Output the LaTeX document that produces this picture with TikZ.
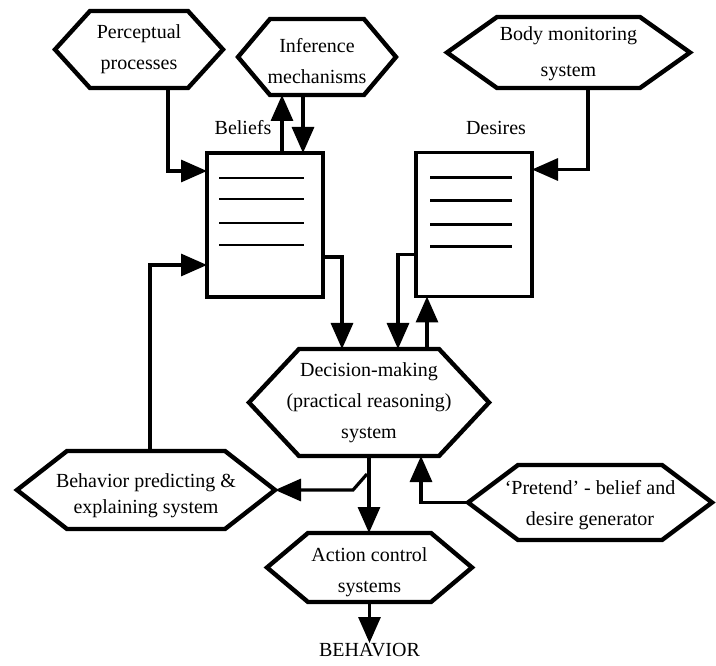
\documentclass[tikz,border=0pt]{standalone}
\usepackage{fontspec}
\setmainfont{Liberation Serif}
\usetikzlibrary{arrows.meta}
\newcommand\hexfont{\fontsize{20}{31}\selectfont}
\newcommand\hexnode[8][]{%
  \node[hexa, minimum width=#5pt, minimum height=#6pt] (#2) at (#3,#4) {};
  \draw[hexline] ([xshift=#7pt]#2.north west) -- ([xshift=-#7pt]#2.north east) -- (#2.east)
    -- ([xshift=-#7pt]#2.south east) -- ([xshift=#7pt]#2.south west) -- (#2.west) -- cycle;
  \node[hextext, #1] (#2-t) at (#2.center) {#8};
}
\tikzset{
  hexa/.style={draw=none, inner sep=0pt, outer sep=0pt},
  hextext/.style={inner sep=0pt, outer sep=0pt, align=center, font=\hexfont},
  hexline/.style={line width=4.4pt, line join=miter},
  store/.style={draw, line width=3.8pt, inner sep=0pt, outer sep=0pt, minimum width=116pt, minimum height=144pt},
  rule/.style={line width=2.6pt},
  lbl/.style={font=\hexfont, inner sep=0pt},
  arr/.style={line width=3.2pt, -{Triangle[length=26pt,width=22pt]}},
}
\begin{document}
\begin{tikzpicture}[x=1pt,y=-1pt]
\useasboundingbox (0,0) rectangle (716,666);
\fill[white] (0,0) rectangle (716,666);

% hexagons
\hexnode{perc}{139}{49.5}{168}{77}{35}{Perceptual\\processes}
\hexnode[yshift=-4pt]{inf}{317}{57}{158}{76}{32}{Inference\\mechanisms}
\hexnode[yshift=-1pt, font=\fontsize{20}{36}\selectfont]{body}{568.5}{52.5}{243}{71}{50}{Body monitoring\\system}
\hexnode{dec}{369}{402.5}{240}{107}{50}{Decision-making\\(practical reasoning)\\system}
\hexnode[yshift=-6pt, font=\fontsize{20}{26}\selectfont]{beh}{146}{490}{258}{78}{50}{Behavior predicting \&\\explaining system}
\hexnode[yshift=-3pt]{pre}{590}{502.5}{244}{75}{50}{‘Pretend’ - belief and\\desire generator}
\hexnode[yshift=-5pt]{act}{369.5}{567.5}{205}{69}{41}{Action control\\systems}

% stores
\node[store] (bel) at (265,225) {};
\node[store] (des) at (474,224.5) {};
\foreach \yy in {25,46,70,92} {
  \draw[rule] ([xshift=12pt,yshift=-\yy pt]bel.north west) -- ([xshift=-19pt,yshift=-\yy pt]bel.north east);
}
\foreach \yy in {25,48,72,94} {
  \draw[rule] ([xshift=14pt,yshift=-\yy pt]des.north west) -- ([xshift=-20pt,yshift=-\yy pt]des.north east);
}
\node[lbl] (bellbl) at (243,128) {Beliefs};
\node[lbl] (deslbl) at (496,128) {Desires};
\node[lbl, anchor=north] (behav) at (369.5,643) {BEHAVIOR};

% connectors
\draw[arr] ([xshift=29pt]perc.south) |- ([yshift=-18pt]bel.north west);
\draw[arr] ([xshift=17pt]bel.north) -- ([xshift=17pt]bel.north |- inf.south);
\draw[arr] ([xshift=38pt]bel.north |- inf.south) -- ([xshift=38pt]bel.north);
\draw[arr] ([xshift=19.5pt]body.south) |- ([yshift=-17pt]des.north east);
\draw[arr] ([yshift=-104pt]bel.north east) -| ([xshift=-27pt]dec.north);
\draw[arr] ([yshift=-102pt]des.north west) -| ([xshift=29pt]dec.north);
\draw[arr] ([xshift=58pt]dec.north) -- ([xshift=58pt]dec.north |- des.south);
\draw[arr] ([xshift=4pt]beh.north) |- ([yshift=-112pt]bel.north west);
\draw[arr] (dec.south) -- (dec.south |- act.north);
\coordinate (sw) at (367,474);
\draw[arr] (sw) -- ++(-14,16) -- (beh.east);
\draw[arr] (pre.west) -| ([xshift=52pt]dec.south);
\draw[arr] (act.south) -- (behav.north);
\end{tikzpicture}
\end{document}
